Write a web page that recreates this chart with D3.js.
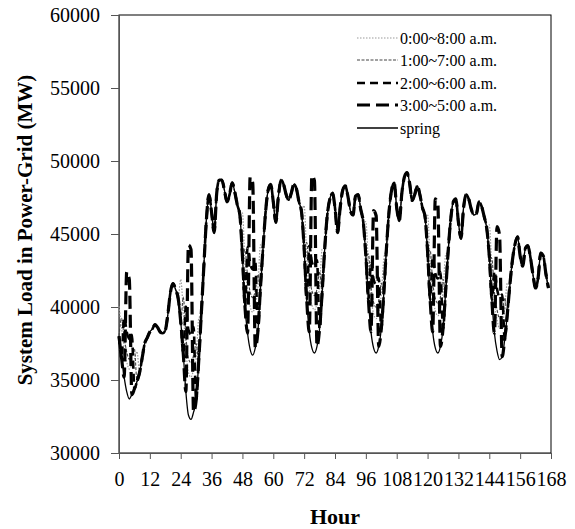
<!DOCTYPE html>
<html><head><meta charset="utf-8">
<script src="https://cdn.jsdelivr.net/npm/d3@7"></script>
<style>
html,body{margin:0;padding:0;background:#fff;}
svg text{font-family:"Liberation Serif","Times New Roman",serif;fill:#000;}
</style></head>
<body><svg id="chart" width="575" height="529"></svg>
<script>
// ---- data ----
const hourTicks = [0,12,24,36,48,60,72,84,96,108,120,132,144,156,168];
const loadTicks = [30000,35000,40000,45000,50000,55000,60000];
const seriesNames = ["0:00~8:00 a.m.","1:00~7:00 a.m.","2:00~6:00 a.m.","3:00~5:00 a.m.","spring"];

// spring load, hourly (h0..h167)
const spring = [
 38000,36500,35200,34200,33700,34000,34400,34900,35500,36500,37500,37900,38300,38500,38800,38600,38300,38200,38400,39500,41000,41600,41200,40600,
 39000,36800,34200,32600,32300,32800,33600,36300,39500,42800,46000,47700,46500,45100,47800,48700,48700,48000,47200,47700,48500,47900,47000,46300,
 43500,40000,38200,37100,36700,37200,38300,41300,44000,46500,48000,48400,47200,45800,47600,48700,48400,47700,47300,47800,48400,48100,47200,46500,
 44000,40500,38300,37200,36850,37300,38500,41000,44000,46300,47400,47800,46800,45100,46800,48000,48300,47600,46600,46300,47600,47700,46700,45800,
 43500,40500,38300,37200,36850,37300,38500,41000,44000,46500,48000,48500,46800,45900,47800,48900,49200,48500,47300,47700,48300,47700,46800,46200,
 43800,40500,38300,37200,36850,37300,38500,41000,43800,46000,47200,47400,45800,44700,46800,47700,47400,46700,46300,46400,47200,46900,46200,45400,
 43500,40500,38200,37000,36400,36600,37800,39500,41500,43200,44300,44800,43500,42800,44000,44200,43400,42200,41300,42000,43700,43500,42300,41300
];

// hour of day at which each scheme's night values begin
const nightStart = [0, 1, 2, 3];

// night-time values for each scheme, one row per day
const night0to8 = [
 [40050,38550,37250,36250,35750,36050,36450,36950],
 [41900,39700,37100,35500,35200,35700,36500,39200],
 [46450,42950,41150,40050,39650,40150,41250,44250],
 [46950,43450,41250,40150,39800,40250,41450,43950],
 [45850,42850,40650,39550,39200,39650,40850,43350],
 [46350,43050,40850,39750,39400,39850,41050,43550],
 [45630,42630,40330,39130,38530,38730,39930,41630]
];
const night1to7 = [
 [39230,37930,36930,36430,36730,37130],
 [40680,38080,36480,36180,36680,37480],
 [43930,42130,41030,40630,41130,42230],
 [44430,42230,41130,40780,41230,42430],
 [43630,41430,40330,39980,40430,41630],
 [43900,41700,40600,40250,40700,41900],
 [43330,41030,39830,39230,39430,40630]
];
const night2to6 = [
 [39300,38300,37800,38100],
 [40030,38430,38130,38630],
 [44100,43000,42600,43100],
 [44200,43100,42750,43200],
 [43000,41900,41550,42000],
 [43400,42300,41950,42400],
 [42450,41250,40650,40850]
];
const night3to5 = [
 [42400,41900],
 [44250,43950],
 [48900,48500],
 [49000,48650],
 [46600,46250],
 [47400,47050],
 [45500,44900]
];

// ---- build series ----
function withNights(nights, start){
  const s = spring.slice();
  nights.forEach((vals, d) => vals.forEach((v, i) => { s[24*d + start + i] = v; }));
  return s;
}
const seriesValues = [
  withNights(night0to8, nightStart[0]),
  withNights(night1to7, nightStart[1]),
  withNights(night2to6, nightStart[2]),
  withNights(night3to5, nightStart[3]),
  spring
];

// ---- styles ----
const styles = [
  {stroke:"#9a9a9a", width:1.2, dash:"1.5,1.5"},
  {stroke:"#444", width:1.1, dash:"3,1.5"},
  {stroke:"#000", width:2.6, dash:"8,5"},
  {stroke:"#000", width:3.2, dash:"13,6"},
  {stroke:"#000", width:1.3, dash:null}
];

const svg = d3.select("#chart");
const L = 119, R = 551, T = 15, B = 453;
const x = d3.scaleLinear().domain([0,168]).range([L,R]);
const y = d3.scaleLinear().domain([30000,60000]).range([B,T]);

// frame
svg.append("rect").attr("x",L).attr("y",T).attr("width",R-L).attr("height",B-T)
  .attr("fill","none").attr("stroke","#000").attr("stroke-width",1);

// axes
const yAxis = svg.append("g").attr("transform",`translate(${L},0)`)
  .call(d3.axisLeft(y).tickValues(loadTicks).tickFormat(d3.format("d")).tickSize(8).tickPadding(11));
const xAxis = svg.append("g").attr("transform",`translate(0,${B})`)
  .call(d3.axisBottom(x).tickValues(hourTicks).tickFormat(d3.format("d")).tickSize(6).tickPadding(13));
[yAxis,xAxis].forEach(g=>{
  g.selectAll("path").attr("stroke","#555");
  g.selectAll("line").attr("stroke","#555");
  g.selectAll("text").style("font-size","20px").style("font-family","'Liberation Serif',serif").attr("fill","#000");
});

// lines
const line = d3.line().x((d,i)=>x(i)).y(d=>y(d)).curve(d3.curveMonotoneX);
seriesValues.forEach((vals, k) => {
  const st = styles[k];
  const p = svg.append("path").datum(vals).attr("d", line)
    .attr("fill","none").attr("stroke", st.stroke).attr("stroke-width", st.width)
    .attr("stroke-linejoin","round");
  if (st.dash) p.attr("stroke-dasharray", st.dash);
});

// legend
const legY = [38, 60, 83, 105, 128];
const leg = svg.append("g");
seriesNames.forEach((name,k)=>{
  const st = styles[k];
  const l = leg.append("line").attr("x1",357).attr("x2",398).attr("y1",legY[k]).attr("y2",legY[k])
    .attr("stroke",st.stroke).attr("stroke-width",st.width);
  if (st.dash) l.attr("stroke-dasharray", st.dash);
  leg.append("text").attr("x",400).attr("y",legY[k]).attr("dy","0.35em")
    .style("font-size","16px").text(name);
});

// titles
svg.append("text").attr("x",335).attr("y",524).attr("text-anchor","middle")
  .style("font-size","22px").style("font-weight","bold").text("Hour");
svg.append("text").attr("transform","translate(25,230) rotate(-90)").attr("text-anchor","middle")
  .attr("dy","0.35em").style("font-size","21px").style("font-weight","bold")
  .text("System Load in Power-Grid (MW)");
</script>
</body></html>
